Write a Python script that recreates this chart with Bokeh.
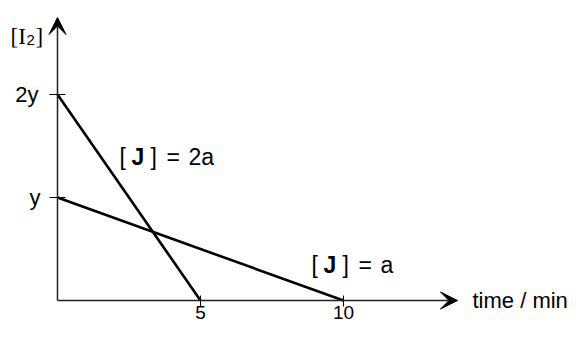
from bokeh.plotting import figure
from bokeh.models import Arrow, VeeHead, Range1d
from bokeh.core.properties import value
from bokeh.embed import file_html
from bokeh.resources import INLINE

# ---- data ----
time_2a = [0, 5]
conc_2a = [2, 0]
time_a = [0, 10]
conc_a = [1, 0]
x_ticks = [5, 10]
x_tick_labels = ["5", "10"]
y_ticks = [2, 1]
y_tick_labels = ["2y", "y"]
x_title = "time / min"

# ---- layout helpers (figure pixel -> data) ----
W, H = 568, 325
OX, OY = 57.0, 300.0
SX, SY = 28.6, 103.0


def dx(px):
    return (px - OX) / SX


def dy(py):
    return (OY - py) / SY


SANS = value("Liberation Sans")
SERIF = value("Liberation Serif")

p = figure(width=W, height=H,
           x_range=Range1d(dx(0), dx(W)),
           y_range=Range1d(dy(H), dy(0)),
           x_axis_location=None, y_axis_location=None,
           output_backend="svg", toolbar_location=None, min_border=0)
p.grid.visible = False
p.outline_line_color = None
p.background_fill_color = "white"

# axes with arrow heads
p.add_layout(Arrow(end=VeeHead(size=17, fill_color="black", line_color="black", line_width=1),
                   x_start=0, y_start=0, x_end=dx(457), y_end=0,
                   line_width=1.5, line_color="#222222"))
p.add_layout(Arrow(end=VeeHead(size=17, fill_color="black", line_color="black", line_width=1),
                   x_start=0, y_start=0, x_end=0, y_end=dy(17),
                   line_width=1.5, line_color="#222222"))

# ticks
p.segment(x0=x_ticks, y0=[dy(OY - 5)] * len(x_ticks), x1=x_ticks, y1=[dy(OY + 6)] * len(x_ticks),
          line_color="black", line_width=1)
p.segment(x0=[dx(49)] * len(y_ticks), y0=y_ticks, x1=[dx(65)] * len(y_ticks), y1=y_ticks,
          line_color="black", line_width=1)

# data lines
p.line(time_2a, conc_2a, line_color="black", line_width=2.6)
p.line(time_a, conc_a, line_color="black", line_width=2.6)

# tick labels
p.text(x=x_ticks, y=[dy(OY + 5)] * len(x_ticks), text=x_tick_labels, text_align="center",
       text_baseline="top", text_font=SANS, text_font_size="19px", text_color="black")
p.text(x=[dx(38), dx(40)], y=y_ticks, text=y_tick_labels, text_align="right",
       text_baseline="middle", text_font=SANS, text_font_size="22px", text_color="black")

# axis titles
p.text(x=[dx(472)], y=[dy(OY)], text=[x_title], text_align="left", text_baseline="middle",
       text_font=SANS, text_font_size="22px", text_color="black")
p.text(x=[dx(10)], y=[dy(36)], text=["[I"], text_align="left", text_baseline="alphabetic",
       text_font=SERIF, text_font_size="23px", text_color="black")
p.text(x=[dx(26)], y=[dy(39)], text=["2"], text_align="left", text_baseline="alphabetic",
       text_font=SANS, text_font_size="15px", text_color="black")
p.text(x=[dx(35)], y=[dy(36)], text=["]"], text_align="left", text_baseline="alphabetic",
       text_font=SERIF, text_font_size="23px", text_color="black")

# series labels: "[ J ] = 2a" and "[ J ] = a"
lab_x = [119, 150, 166, 188, 311, 342, 358, 380]
lab_y = [156, 156, 156, 156, 264, 264, 264, 264]
lab_t = ["[", "]", "=", "2a", "[", "]", "=", "a"]
p.text(x=[dx(v) for v in lab_x], y=[dy(v) for v in lab_y], text=lab_t, text_align="left",
       text_baseline="alphabetic", text_font=SANS, text_font_size="23px", text_color="black")
p.text(x=[dx(131), dx(323)], y=[dy(156), dy(264)], text=["J", "J"], text_align="left",
       text_baseline="alphabetic", text_font=SANS, text_font_size="23px",
       text_font_style="bold", text_color="black")

open("out.html", "w").write(file_html(p, INLINE))
